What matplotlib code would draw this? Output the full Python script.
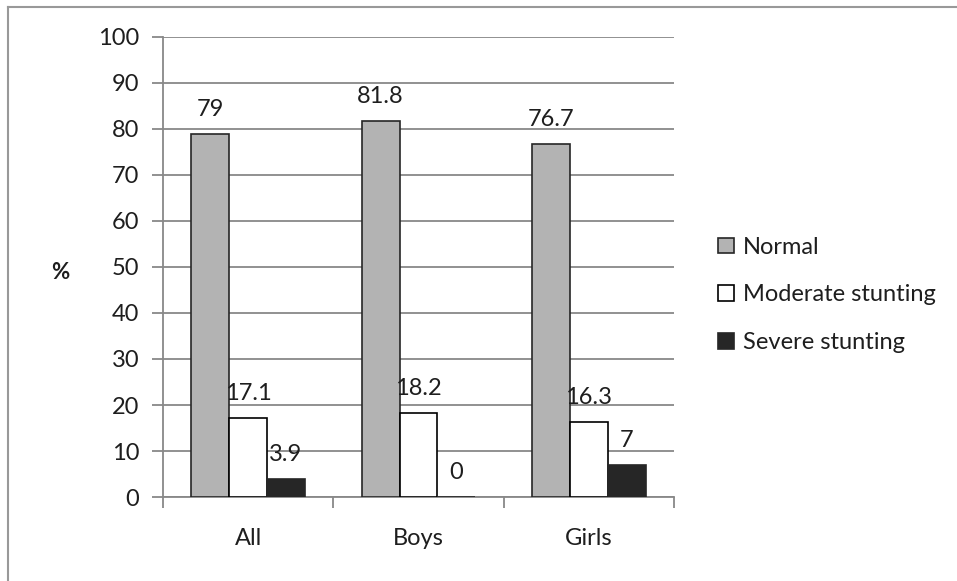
import matplotlib.pyplot as plt
import numpy as np

# data
categories = ['All', 'Boys', 'Girls']
series_names = ['Normal', 'Moderate stunting', 'Severe stunting']
normal = [79, 81.8, 76.7]
moderate = [17.1, 18.2, 16.3]
severe = [3.9, 0, 7]
label_text = [['79', '81.8', '76.7'], ['17.1', '18.2', '16.3'], ['3.9', '0', '7']]

plt.rcParams['font.family'] = ['Lato', 'DejaVu Sans']

fig = plt.figure(figsize=(9.57, 5.81), dpi=100)
ax = fig.add_axes([163 / 957, 1 - 497 / 581, (674 - 163) / 957, (497 - 37) / 581])

x = np.arange(len(categories))
w = 1 / 4.5
colors = ['#b3b3b3', '#ffffff', '#262626']
edges = ['#262626', '#000000', '#262626']
values = [normal, moderate, severe]

for i, vals in enumerate(values):
    pos = x + (i - 1) * w
    ax.bar(pos, vals, w, color=colors[i], edgecolor=edges[i], linewidth=1.2,
           label=series_names[i], zorder=3)
    for j, v in enumerate(vals):
        ax.annotate(label_text[i][j], (pos[j], v), xytext=(0, 10),
                    textcoords='offset points', ha='center', va='bottom',
                    fontsize=17, color='#1e1e1e', zorder=4)

ax.set_xlim(-0.5, 2.5)
ax.set_ylim(0, 100)
ax.set_yticks(range(0, 101, 10))
ax.yaxis.grid(True, color='#888888', linewidth=1.3, zorder=0)
ax.set_axisbelow(True)

ax.set_xticks([-0.5, 0.5, 1.5, 2.5])
ax.set_xticklabels([])
ax.set_xticks(x, minor=True)
ax.set_xticklabels(categories, minor=True)
ax.tick_params(axis='x', which='major', direction='out', length=8, color='#888888', width=1.3)
ax.tick_params(axis='x', which='minor', length=0, pad=22, labelsize=17, labelcolor='#1e1e1e')
ax.tick_params(axis='y', direction='out', length=8, color='#888888', width=1.3,
               labelsize=17, labelcolor='#1e1e1e', pad=9)

for s in ['top', 'right']:
    ax.spines[s].set_visible(False)
for s in ['left', 'bottom']:
    ax.spines[s].set_color('#888888')
    ax.spines[s].set_linewidth(1.3)

ax.set_ylabel('%', rotation=0, fontsize=16, fontweight='bold', color='#1e1e1e',
              va='center', ha='center')
ax.yaxis.set_label_coords(-0.201, 0.489)

leg = ax.legend(loc='upper left', bbox_to_anchor=(1.045, 0.612), frameon=False,
                fontsize=17, handlelength=0.65, handleheight=0.65,
                handletextpad=0.4, labelspacing=1.13, labelcolor='#1e1e1e')

# chart area border
fig.add_artist(plt.Line2D([8 / 957, 8 / 957], [0, 1 - 7 / 581], color='#999999',
                          linewidth=1.5, transform=fig.transFigure))
fig.add_artist(plt.Line2D([8 / 957, 1], [1 - 7 / 581, 1 - 7 / 581], color='#999999',
                          linewidth=1.5, transform=fig.transFigure))

fig.savefig('out.png', dpi=100)
